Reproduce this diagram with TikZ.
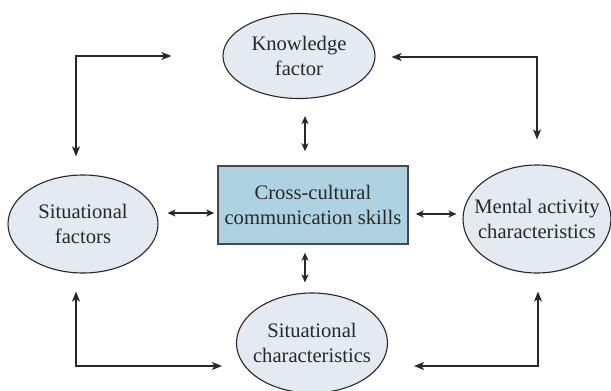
\documentclass[tikz,border=0pt]{standalone}
\usepackage{fontspec}
\setmainfont{Liberation Serif}
\usepackage{tikz}
\usetikzlibrary{arrows.meta,shapes.geometric}

\definecolor{bubblefill}{RGB}{227,234,242}
\definecolor{boxfill}{RGB}{173,210,225}
\definecolor{inkline}{RGB}{40,40,40}

\tikzset{
    bubble/.style={ellipse,draw=inkline,line width=1.1pt,fill=bubblefill,inner sep=0pt},
    bubbletext/.style={align=center,text=inkline},
    skillbox/.style={rectangle,draw=inkline!85,line width=1.4pt,fill=boxfill,
        minimum width=190pt,minimum height=78pt,align=center,text=inkline},
    link/.style={draw=inkline,line width=1.2pt,{Stealth[length=10pt,width=8pt,inset=2.5pt]}-{Stealth[length=10pt,width=8pt,inset=2.5pt]}},
    shortlink/.style={draw=inkline,line width=1.2pt,{Stealth[length=8pt,width=7pt,inset=2pt]}-{Stealth[length=8pt,width=7pt,inset=2pt]}}
}

\begin{document}
\begin{tikzpicture}[x=1pt,y=-1pt,font=\fontsize{20.6}{25}\selectfont]
    \useasboundingbox (0,0) rectangle (611,391);
    \clip (0,0) rectangle (611,391);

    % centre box and the four factors round it
    \node[skillbox] (cc) at (313,205) {Cross-cultural\\communication skills};

    \node[bubble,minimum width=152pt,minimum height=85pt] (kn) at (299,56) {};
    \node[bubbletext] at (kn) {Knowledge\\factor};

    \node[bubble,minimum width=150pt,minimum height=98pt] (sf) at (83,224) {};
    \node[bubbletext] at (sf) {Situational\\factors};

    \node[bubble,minimum width=148pt,minimum height=108pt] (me) at (537,219) {};
    \node[bubbletext] at (me) {Mental activity\\characteristics};

    \node[bubble,minimum width=151pt,minimum height=100pt] (sc) at (312,343) {};
    \node[bubbletext] at (sc) {Situational\\characteristics};

    % short arrows to the centre box
    \draw[shortlink] ([xshift=6pt,yshift=-17pt]kn.south) -- ([xshift=-8pt,yshift=14pt]cc.north);
    \draw[shortlink] ([xshift=-8pt,yshift=-8pt]cc.south) -- ([xshift=-7pt,yshift=10pt]sc.north);
    \draw[shortlink] ([xshift=9pt,yshift=11pt]sf.east) -- ([xshift=-3pt,yshift=-8pt]cc.west);
    \draw[shortlink] ([xshift=7pt,yshift=-9pt]cc.east) -- ([xshift=-6pt,yshift=5pt]me.west);

    % elbow arrows round the outside
    \draw[link] ([xshift=-51pt]kn.west) -| ([xshift=-7pt,yshift=18pt]sf.north);
    \draw[link] ([xshift=16pt,yshift=-1pt]kn.east) -| ([yshift=25pt]me.north);
    \draw[link] ([xshift=-7pt,yshift=-18pt]sf.south) |- ([xshift=-14pt,yshift=-23pt]sc.west);
    \draw[link] ([xshift=1pt,yshift=-18pt]me.south) |- ([xshift=26pt,yshift=-23pt]sc.east);
\end{tikzpicture}
\end{document}
